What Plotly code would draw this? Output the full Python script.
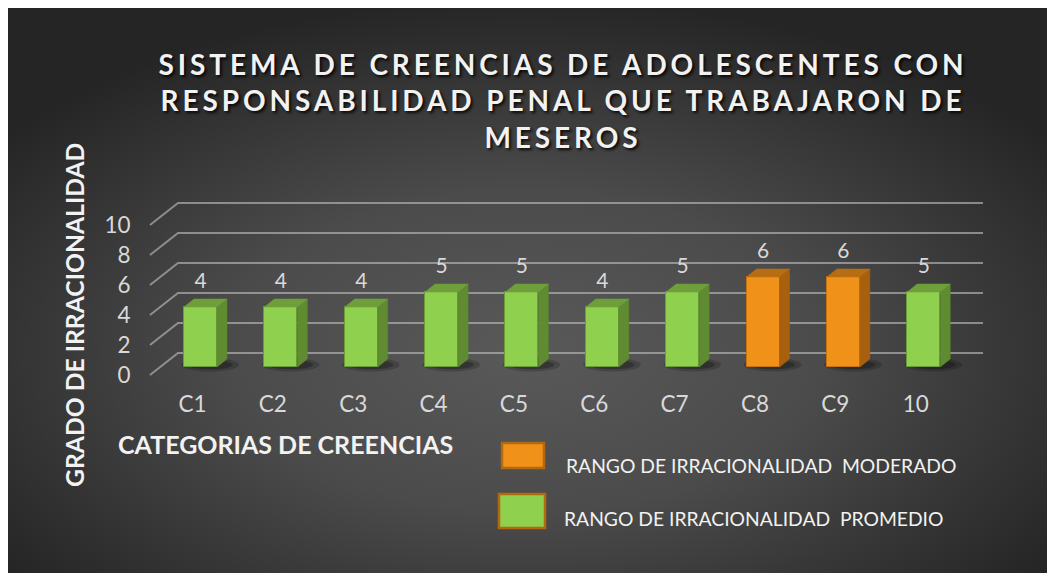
import base64
import plotly.graph_objects as go

# ---------------- data ----------------
categorias = ["C1", "C2", "C3", "C4", "C5", "C6", "C7", "C8", "C9", "10"]
valores = [4, 4, 4, 5, 5, 4, 5, 6, 6, 5]
rangos = ["PROMEDIO", "PROMEDIO", "PROMEDIO", "PROMEDIO", "PROMEDIO",
          "PROMEDIO", "PROMEDIO", "MODERADO", "MODERADO", "PROMEDIO"]
ticks_y = [0, 2, 4, 6, 8, 10]

titulo = ("SISTEMA DE CREENCIAS DE ADOLESCENTES CON<br>"
          "RESPONSABILIDAD PENAL QUE TRABAJARON DE<br>MESEROS")
titulo_x = "CATEGORIAS DE CREENCIAS"
titulo_y = "GRADO DE IRRACIONALIDAD"
leyenda = {"MODERADO": "RANGO DE IRRACIONALIDAD  MODERADO",
           "PROMEDIO": "RANGO DE IRRACIONALIDAD  PROMEDIO"}

# ---------------- styles ----------------
estilo = {
    "PROMEDIO": dict(front="#8fd14f", side="#5f8b31", top="#6f9f3b", line="#6a9c37"),
    "MODERADO": dict(front="#f0921a", side="#a8600f", top="#b86d12", line="#c57410"),
}
FONT = "Lato"
W, H = 1055, 573
OFF = 8                      # page body margin
L, R, T, B = 137, 1000, 190, 388   # plot area in screen pixels
X0PX, XPX = 200.5, 80.36   # screen pixel of category 0, pixels per category
Y0PX, YPX = 367.0, 15.0    # screen pixel of value 0 (bar plane), pixels per unit
xr = [(L - X0PX) / XPX, (R - X0PX) / XPX]
yr = [(Y0PX - B) / YPX, (Y0PX - T) / YPX]

BAR_W = 33 / XPX
DDX, DDY = 10 / XPX, 8 / YPX            # bar depth
FRONT_DY, BACK_DY = -8 / YPX, 14 / YPX  # floor front/back offsets
FRONT_X, BACK_X, RIGHT_X = (150 - X0PX) / XPX, (178 - X0PX) / XPX, (983 - X0PX) / XPX


def px_x(p):
    return (p - L) / (R - L)


def px_y(p):
    return (B - p) / (B - T)


idx = list(range(len(categorias)))

fig = go.Figure()

shapes = []
# perspective gridlines (below traces)
for v in ticks_y:
    path = (f"M {FRONT_X},{v + FRONT_DY} L {BACK_X},{v + BACK_DY} "
            f"L {RIGHT_X},{v + BACK_DY}")
    shapes.append(dict(type="path", xref="x", yref="y", path=path, layer="below",
                       line=dict(color="rgba(190,190,190,0.62)", width=2)))
# shadows behind bars
for i in idx:
    cx = i + 0.12
    for rx, ry, a in [(0.36, 0.45, 0.18), (0.28, 0.3, 0.25)]:
        shapes.append(dict(type="circle", xref="x", yref="y", layer="below",
                           x0=cx - rx, x1=cx + rx, y0=0.15 - ry, y1=0.15 + ry,
                           fillcolor=f"rgba(0,0,0,{a})", line=dict(width=0)))

# front faces
for g in ["PROMEDIO", "MODERADO"]:
    xs = [i for i in idx if rangos[i] == g]
    ys = [valores[i] for i in idx if rangos[i] == g]
    st = estilo[g]
    fig.add_trace(go.Bar(x=xs, y=ys, width=BAR_W, name=leyenda[g],
                         marker=dict(color=st["front"], line=dict(color=st["line"], width=1)),
                         showlegend=False))

# side and top faces
for g in ["PROMEDIO", "MODERADO"]:
    st = estilo[g]
    sx, sy, tx, ty = [], [], [], []
    for i in idx:
        if rangos[i] != g:
            continue
        v = valores[i]
        xl_, xr_ = i - BAR_W / 2, i + BAR_W / 2
        sx += [xr_, xr_ + DDX, xr_ + DDX, xr_, xr_, None]
        sy += [0, DDY, v + DDY, v, 0, None]
        tx += [xl_, xl_ + DDX, xr_ + DDX, xr_, xl_, None]
        ty += [v, v + DDY, v + DDY, v, v, None]
    fig.add_trace(go.Scatter(x=sx, y=sy, mode="lines", fill="toself",
                             fillcolor=st["side"], line=dict(color=st["side"], width=0.5),
                             showlegend=False, hoverinfo="skip"))
    fig.add_trace(go.Scatter(x=tx, y=ty, mode="lines", fill="toself",
                             fillcolor=st["top"], line=dict(color=st["top"], width=0.5),
                             showlegend=False, hoverinfo="skip"))

# data labels
fig.add_trace(go.Scatter(x=idx, y=[v + 1.6 for v in valores], mode="text",
                         text=[str(v) for v in valores], textposition="middle center",
                         textfont=dict(family=FONT, size=21, color="#d9d9d9"),
                         showlegend=False, hoverinfo="skip"))

# background panel with radial gradient
svg = (f'<svg xmlns="http://www.w3.org/2000/svg" width="{W}" height="{H}">'
       '<defs><radialGradient id="g" cx="0.49" cy="0.6" r="0.62">'
       '<stop offset="0" stop-color="#595959"/>'
       '<stop offset="0.45" stop-color="#4b4b4b"/>'
       '<stop offset="1" stop-color="#252525"/>'
       '</radialGradient></defs>'
       f'<rect x="0" y="0" width="{W}" height="{H}" fill="url(#g)"/></svg>')
src = "data:image/svg+xml;base64," + base64.b64encode(svg.encode()).decode()

# legend boxes
shapes.append(dict(type="rect", xref="paper", yref="paper",
                   x0=px_x(502), x1=px_x(544), y0=px_y(468), y1=px_y(443),
                   fillcolor=estilo["MODERADO"]["front"], line=dict(color="#b4690e", width=2.5)))
shapes.append(dict(type="rect", xref="paper", yref="paper",
                   x0=px_x(499), x1=px_x(545), y0=px_y(528), y1=px_y(494),
                   fillcolor=estilo["PROMEDIO"]["front"], line=dict(color="#b4690e", width=2.5)))

annotations = [
    dict(text=leyenda["MODERADO"], xref="paper", yref="paper", x=px_x(564), y=px_y(465),
         xanchor="left", yanchor="middle", showarrow=False,
         font=dict(family=FONT, size=19.3, color="#f2f2f2")),
    dict(text=leyenda["PROMEDIO"], xref="paper", yref="paper", x=px_x(562), y=px_y(518),
         xanchor="left", yanchor="middle", showarrow=False,
         font=dict(family=FONT, size=19.3, color="#f2f2f2")),
    dict(text=f"<b>{titulo_x}</b>", xref="paper", yref="paper", x=px_x(116), y=px_y(444),
         xanchor="left", yanchor="middle", showarrow=False,
         font=dict(family=FONT, size=25, color="#f2f2f2")),
    dict(text=f"<b>{titulo_y}</b>", xref="paper", yref="paper", x=px_x(74), y=px_y(315),
         xanchor="center", yanchor="middle", showarrow=False, textangle=-90,
         font=dict(family=FONT, size=24.7, color="#f2f2f2")),
]

fig.update_layout(
    width=W, height=H,
    margin=dict(l=L - OFF, r=W + OFF - R, t=T - OFF, b=H + OFF - B, pad=0),
    paper_bgcolor="#333333", plot_bgcolor="rgba(0,0,0,0)",
    title=dict(text=f"<b>{titulo}</b>", x=(563 - OFF) / W, xref="container",
               xanchor="center", y=1 - 67 / H, yref="container", yanchor="middle",
               font=dict(family=FONT, size=28, color="#f2f2f2",
                         shadow="2px 2px 3px rgba(0,0,0,0.85)")),
    xaxis=dict(range=xr, tickmode="array", tickvals=[i - 0.1 for i in idx],
               ticktext=categorias, showgrid=False, zeroline=False, showline=False,
               ticks="", tickfont=dict(family=FONT, size=22.5, color="#d9d9d9")),
    yaxis=dict(range=yr, tickmode="array", tickvals=[v + FRONT_DY for v in ticks_y],
               ticktext=[str(v) for v in ticks_y], showgrid=False, zeroline=False,
               showline=False, ticks="outside", ticklen=1, tickcolor="rgba(0,0,0,0)",
               tickfont=dict(family=FONT, size=22.5, color="#d9d9d9")),
    images=[dict(source=src, xref="paper", yref="paper", x=px_x(OFF), y=px_y(OFF),
                 sizex=W / (R - L), sizey=H / (B - T),
                 xanchor="left", yanchor="top", sizing="stretch", layer="below")],
    shapes=shapes,
    annotations=annotations,
    bargap=0,
)

post = ("document.querySelectorAll('.gtitle').forEach(function(e)"
        "{e.style.letterSpacing='3.9px';});")
fig.write_html("out.html", post_script=post)
